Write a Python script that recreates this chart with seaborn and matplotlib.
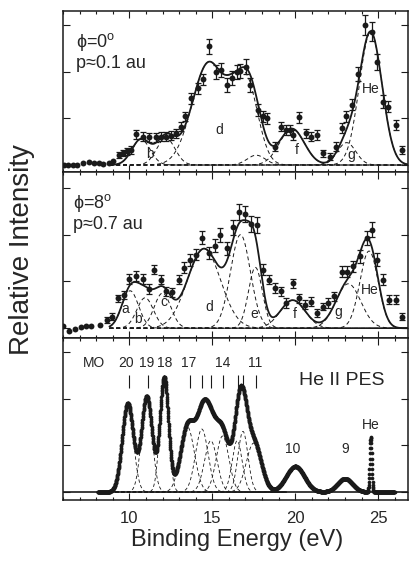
import numpy as np
import pandas as pd
import matplotlib
matplotlib.use("Agg")
import matplotlib.pyplot as plt
import seaborn as sns
from matplotlib.ticker import MultipleLocator, NullFormatter

# ---------------- data ----------------
# Panel 1: phi = 0 deg, p ~ 0.1 au
p1_energy = [6.07, 6.33, 6.58, 6.84, 7.18, 7.54, 7.84, 8.15, 8.43, 8.75, 8.99, 9.36, 9.60, 9.84,
             10.10, 10.40, 10.81, 11.17, 11.61, 11.91, 12.22, 12.52, 12.82, 13.12, 13.38, 13.73,
             14.13, 14.43, 14.83, 15.20, 15.54, 15.88, 16.20, 16.49, 16.69, 17.01, 17.29, 17.75,
             18.06, 18.30, 18.76, 19.16, 19.47, 19.67, 19.87, 20.23, 20.67, 20.98, 21.32, 21.68,
             22.08, 22.45, 22.79, 23.09, 23.45, 23.80, 24.20, 24.60, 24.90, 25.27, 25.61, 26.07, 26.41]
p1_intensity = [0.01, 0.01, 0.01, 0.01, 0.04, 0.06, 0.04, 0.04, 0.02, 0.04, 0.09, 0.21, 0.26, 0.29,
                0.32, 0.66, 0.61, 0.59, 0.59, 0.61, 0.61, 0.63, 0.68, 0.82, 1.04, 1.43,
                1.64, 1.84, 2.54, 1.99, 2.04, 1.71, 1.86, 2.00, 2.01, 2.11, 1.71, 1.18,
                1.04, 1.00, 0.39, 0.82, 0.75, 0.75, 0.64, 1.02, 0.68, 0.61, 0.64, 0.25,
                0.18, 0.39, 0.79, 1.04, 1.29, 1.96, 3.00, 2.86, 2.21, 1.36, 1.25, 0.86, 0.32]
p1_error = [0, 0, 0, 0, 0, 0, 0, 0, 0, 0, 0, 0.06, 0.07, 0.08,
            0.08, 0.10, 0.10, 0.10, 0.10, 0.10, 0.10, 0.10, 0.10, 0.10, 0.10, 0.12,
            0.12, 0.12, 0.17, 0.15, 0.15, 0.15, 0.15, 0.15, 0.15, 0.17, 0.15, 0.12,
            0.12, 0.12, 0.10, 0.10, 0.10, 0.10, 0.10, 0.12, 0.10, 0.10, 0.10, 0.08,
            0.08, 0.10, 0.10, 0.12, 0.12, 0.15, 0.21, 0.20, 0.17, 0.14, 0.12, 0.10, 0.08]
# fitted components: (centre eV, height, width eV); group names share one dashed curve
p1_comp_name = ["b1", "b2", "d", "d", "d", "e", "f", "g", "He"]
p1_comp_center = [10.7, 12.2, 14.8, 16.1, 17.05, 17.65, 19.8, 23.1, 24.55]
p1_comp_height = [0.55, 0.58, 2.2, 0.30, 1.75, 0.21, 0.78, 0.48, 2.85]
p1_comp_width = [0.55, 0.55, 1.0, 0.45, 0.70, 0.55, 0.75, 0.55, 0.68]
p1_label_text = ["b", "d", "f", "g", "He"]
p1_label_x = [11.25, 15.44, 20.07, 23.4, 24.55]
p1_label_y = [0.24, 0.75, 0.32, 0.21, 1.62]

# Panel 2: phi = 8 deg, p ~ 0.7 au
p2_energy = [6.03, 6.37, 6.72, 7.06, 7.36, 7.66, 8.24, 8.63, 8.95, 9.30, 9.66, 10.00, 10.40,
             10.81, 11.17, 11.51, 11.91, 12.22, 12.58, 12.98, 13.32, 13.63, 13.99, 14.39, 14.79,
             15.14, 15.48, 15.88, 16.24, 16.61, 16.95, 17.35, 17.69, 18.06, 18.42, 18.76, 19.16,
             19.47, 19.87, 20.23, 20.57, 20.98, 21.32, 21.68, 21.98, 22.33, 22.79, 23.15, 23.50,
             23.90, 24.30, 24.60, 24.95, 25.27, 25.68, 26.09, 26.41]
p2_intensity = [0.05, -0.07, -0.02, 0.02, 0.04, 0.04, 0.07, 0.18, 0.25, 0.64, 0.71, 1.05, 1.12,
                1.05, 0.84, 1.25, 1.04, 0.79, 0.77, 1.04, 1.29, 1.46, 1.57, 1.93, 1.61,
                1.76, 2.00, 1.71, 2.16, 2.48, 2.44, 2.22, 2.21, 1.25, 1.04, 0.86, 0.79,
                0.54, 0.96, 0.64, 0.50, 0.57, 0.32, 0.46, 0.54, 0.68, 1.21, 1.21, 1.32,
                1.54, 1.93, 2.11, 1.46, 1.04, 0.61, 0.61, 0.25]
p2_error = [0, 0, 0, 0, 0, 0, 0, 0.06, 0.07, 0.08, 0.08, 0.10, 0.10,
            0.10, 0.10, 0.10, 0.10, 0.10, 0.10, 0.10, 0.12, 0.12, 0.12, 0.14, 0.12,
            0.14, 0.15, 0.14, 0.16, 0.17, 0.17, 0.17, 0.17, 0.12, 0.10, 0.10, 0.10,
            0.10, 0.10, 0.10, 0.10, 0.10, 0.08, 0.08, 0.10, 0.10, 0.12, 0.12, 0.12,
            0.14, 0.15, 0.16, 0.14, 0.12, 0.10, 0.10, 0.08]
p2_comp_name = ["a", "b", "c", "d1", "d2", "e", "f", "g", "He"]
p2_comp_center = [10.05, 10.95, 12.0, 14.5, 16.7, 17.6, 19.85, 23.2, 24.45]
p2_comp_height = [0.80, 0.65, 0.75, 1.70, 2.00, 1.30, 0.60, 0.95, 1.65]
p2_comp_width = [0.50, 0.50, 0.50, 1.00, 0.60, 0.42, 0.75, 0.75, 0.55]
p2_label_text = ["a", "b", "c", "d", "e", "f", "g", "He"]
p2_label_x = [9.76, 10.5, 12.11, 14.83, 17.55, 19.97, 22.59, 24.5]
p2_label_y = [0.41, 0.19, 0.55, 0.46, 0.31, 0.31, 0.34, 0.81]

# Panel 3: He II photoelectron spectrum, MO components
p3_comp_name = ["20", "19", "18", "17", "16", "15", "14", "13", "12", "11", "10", "9", "He"]
p3_comp_center = [9.9, 11.05, 12.1, 13.5, 14.37, 14.91, 15.62, 16.5, 16.85, 17.5, 20.0, 23.0, 24.55]
p3_comp_height = [1.9, 2.05, 2.45, 1.4, 1.35, 1.1, 1.2, 1.1, 1.3, 1.05, 0.55, 0.29, 1.18]
p3_comp_width = [0.34, 0.32, 0.26, 0.42, 0.38, 0.38, 0.38, 0.30, 0.30, 0.45, 0.55, 0.45, 0.06]
p3_mo_tick_energy = [10.0, 11.11, 12.11, 13.63, 14.39, 14.93, 15.64, 16.55, 16.85, 17.61]
p3_mo_label_text = ["MO", "20", "19", "18", "17", "14", "11"]
p3_mo_label_x = [7.89, 9.8, 11.05, 12.11, 13.58, 15.6, 17.61]
p3_peak_label_text = ["10", "9", "He"]
p3_peak_label_x = [19.87, 23.0, 24.55]
p3_peak_label_y = [0.92, 0.92, 1.44]

x_ticks = [10, 15, 20, 25]


def gauss(x, c, h, w):
    return h * np.exp(-(x - c) ** 2 / (2.0 * w ** 2))


# ---------------- style ----------------
sns.set_theme(style="ticks")
plt.rcParams["font.family"] = ["Liberation Sans", "DejaVu Sans"]
plt.rcParams["mathtext.fontset"] = "custom"
plt.rcParams["mathtext.rm"] = "Liberation Sans"
plt.rcParams["mathtext.it"] = "Liberation Sans:italic"

fig = plt.figure(figsize=(4.09, 5.65), dpi=100)
gs = fig.add_gridspec(3, 1, left=0.154, right=0.9976, top=0.9805, bottom=0.115,
                      hspace=0, height_ratios=[161, 166, 162])
axes = [fig.add_subplot(gs[i]) for i in range(3)]
ylims = [(-0.15, 3.30), (-0.21, 3.34), (-0.17, 3.30)]

dash = (0, (4, 3))


def fit_panel(ax, energy, inten, err, names, cen, hei, wid):
    xs = np.arange(8.8, 26.81, 0.02)
    total = np.zeros_like(xs)
    groups = {}
    for n, c, h, w in zip(names, cen, hei, wid):
        g = gauss(xs, c, h, w)
        total += g
        groups[n] = groups.get(n, 0) + g
    for n, g in groups.items():
        sns.lineplot(x=xs, y=g, ax=ax, color="k", lw=0.7, ls=dash, sort=False)
    sns.lineplot(x=xs, y=total, ax=ax, color="k", lw=1.3, sort=False)
    e = np.array(energy)
    i = np.array(inten)
    s = np.array(err)
    m = s > 0
    ax.errorbar(e[m], i[m], yerr=s[m], fmt="none", ecolor="k", elinewidth=0.9,
                capsize=2.2, capthick=0.9, zorder=3)
    sns.scatterplot(x=e, y=i, ax=ax, color="k", s=18, linewidth=0, zorder=4)


fit_panel(axes[0], p1_energy, p1_intensity, p1_error,
          p1_comp_name, p1_comp_center, p1_comp_height, p1_comp_width)
fit_panel(axes[1], p2_energy, p2_intensity, p2_error,
          p2_comp_name, p2_comp_center, p2_comp_height, p2_comp_width)

for t, x, y in zip(p1_label_text, p1_label_x, p1_label_y):
    axes[0].text(x, y, t, fontsize=10, ha="center", va="center")
for t, x, y in zip(p2_label_text, p2_label_x, p2_label_y):
    axes[1].text(x, y, t, fontsize=10, ha="center", va="center")

axes[0].text(6.8, 2.52, "\u03d5=0$^{\\rm o}$", fontsize=13, va="baseline")
axes[0].text(6.8, 2.08, "p\u22480.1 au", fontsize=13, va="baseline")
axes[1].text(6.6, 2.57, "\u03d5=8$^{\\rm o}$", fontsize=13, va="baseline")
axes[1].text(6.6, 2.12, "p\u22480.7 au", fontsize=13, va="baseline")

# panel 3
ax = axes[2]
xs3 = np.arange(8.1, 26.0, 0.01)
pes = np.zeros_like(xs3)
for c, h, w in zip(p3_comp_center, p3_comp_height, p3_comp_width):
    pes += gauss(xs3, c, h, w)
xsd = np.arange(8.8, 19.5, 0.02)
for c, h, w in zip(p3_comp_center[:10], p3_comp_height[:10], p3_comp_width[:10]):
    sns.lineplot(x=xsd, y=gauss(xsd, c, h, w), ax=ax, color="k", lw=0.6, ls=dash, sort=False)
ax.axhline(0, color="k", lw=1.2)
sns.scatterplot(x=xs3, y=pes, ax=ax, color="k", s=7, linewidth=0, zorder=4)
ax.vlines(p3_mo_tick_energy, 2.23, 2.51, color="k", lw=0.8)
for t, x in zip(p3_mo_label_text, p3_mo_label_x):
    ax.text(x, 2.76, t, fontsize=10, ha="center", va="center")
for t, x, y in zip(p3_peak_label_text, p3_peak_label_x, p3_peak_label_y):
    ax.text(x, y, t, fontsize=10, ha="center", va="center")
ax.text(20.2, 2.4, "He II PES", fontsize=14, ha="left", va="center")

for k, ax in enumerate(axes):
    ax.set_xlim(6.0, 26.8)
    ax.set_ylim(*ylims[k])
    ax.xaxis.set_major_locator(MultipleLocator(5))
    ax.xaxis.set_minor_locator(MultipleLocator(1))
    ax.yaxis.set_major_locator(MultipleLocator(1))
    ax.yaxis.set_major_formatter(NullFormatter())
    ax.tick_params(which="both", direction="in", top=True, right=True, width=0.8, color="k")
    ax.tick_params(which="major", length=5)
    ax.tick_params(which="minor", length=2.5)
    ax.set_xlabel("")
    ax.set_ylabel("")
    for sp in ax.spines.values():
        sp.set_linewidth(1.1)
        sp.set_color("k")
    if k < 2:
        ax.xaxis.set_major_formatter(NullFormatter())
    else:
        ax.set_xticks(x_ticks)
        ax.set_xticklabels([str(v) for v in x_ticks], fontsize=12)
        ax.tick_params(axis="x", which="major", pad=8)

fig.text(0.58, 0.045, "Binding Energy (eV)", fontsize=17, ha="center", va="center")
fig.text(0.054, 0.5575, "Relative Intensity", fontsize=20, rotation=90, ha="center", va="center")

fig.savefig("out.png", dpi=100)
